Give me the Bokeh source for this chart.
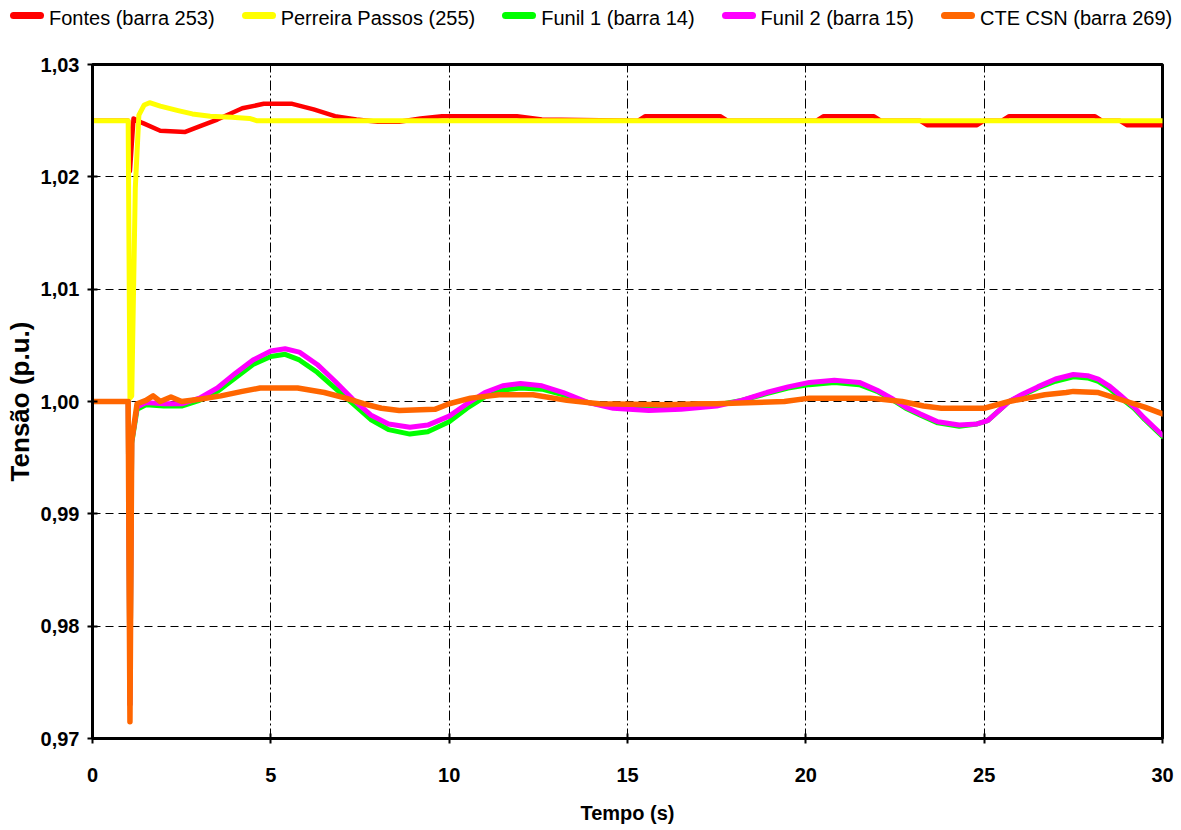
from bokeh.plotting import figure
from bokeh.layouts import column
from bokeh.models import Div, CustomJSTickFormatter, FixedTicker, Range1d
from bokeh.embed import file_html
from bokeh.resources import INLINE

# ---- data ----
t_fontes = [0, 1.0, 1.05, 1.15, 1.4, 1.9, 2.6, 3.0, 3.5, 4.2, 4.8, 5.6, 6.2, 6.8, 7.4, 8.0, 8.6,
            9.2, 9.8, 11.9, 12.6, 15.3, 15.5, 17.6, 17.8, 20.3, 20.5, 21.9, 22.1, 23.2, 23.4,
            24.8, 25.0, 25.5, 25.7, 28.1, 28.3, 28.8, 29.0, 30]
v_fontes = [1.025, 1.025, 1.0205, 1.0252, 1.0248, 1.0241, 1.0240, 1.0245, 1.0251, 1.0261, 1.0265,
            1.0265, 1.0260, 1.0254, 1.0251, 1.0249, 1.0249, 1.0252, 1.0254, 1.0254, 1.0251,
            1.0250, 1.0254, 1.0254, 1.0250, 1.0250, 1.0254, 1.0254, 1.0250, 1.0250, 1.0246,
            1.0246, 1.0250, 1.0250, 1.0254, 1.0254, 1.0250, 1.0250, 1.0246, 1.0246]

t_perreira = [0, 1.0, 1.05, 1.1, 1.2, 1.3, 1.45, 1.6, 1.9, 2.4, 2.8, 3.3, 3.9, 4.4, 4.6, 30]
v_perreira = [1.025, 1.025, 1.0003, 1.0005, 1.019, 1.0255, 1.0264, 1.0266, 1.0263, 1.0259,
              1.0256, 1.0254, 1.0253, 1.0252, 1.0250, 1.0250]

t_funil = [0, 1.0, 1.05, 1.1, 1.25, 1.5, 2.0, 2.5, 3.0, 3.5, 4.0, 4.5, 5.0, 5.4, 5.8, 6.3, 6.8,
           7.3, 7.8, 8.3, 8.9, 9.4, 10.0, 10.5, 11.0, 11.5, 12.0, 12.6, 13.2, 13.9, 14.6, 15.6,
           16.5, 17.5, 18.2, 18.9, 19.5, 20.1, 20.8, 21.5, 22.0, 22.4, 22.8, 23.2, 23.7, 24.3,
           24.8, 25.1, 25.7, 26.1, 26.5, 27.0, 27.5, 27.9, 28.2, 28.5, 28.8, 29.2, 29.5, 29.8, 30]
v_funil1 = [1.0, 1.0, 0.973, 0.9963, 0.9993, 0.9997, 0.9996, 0.9996, 1.0001, 1.0009, 1.0021,
            1.0033, 1.0040, 1.0042, 1.0037, 1.0026, 1.0012, 0.9998, 0.9984, 0.9975, 0.9971,
            0.9973, 0.9982, 0.9994, 1.0004, 1.0010, 1.0012, 1.0011, 1.0006, 0.9999, 0.9995,
            0.9994, 0.9995, 0.9997, 1.0001, 1.0007, 1.0012, 1.0015, 1.0017, 1.0015, 1.0009,
            1.0002, 0.9994, 0.9988, 0.9981, 0.9978, 0.9980, 0.9983, 1.0, 1.0006, 1.0012,
            1.0018, 1.0022, 1.0021, 1.0018, 1.0012, 1.0004, 0.9994, 0.9984, 0.9975, 0.9969]
v_funil2 = [1.0, 1.0, 0.973, 0.9965, 0.9995, 0.9999, 0.9998, 0.9998, 1.0003, 1.0012, 1.0025,
            1.0037, 1.0045, 1.0047, 1.0044, 1.0033, 1.0018, 1.0002, 0.9988, 0.9980, 0.9977,
            0.9979, 0.9987, 0.9998, 1.0008, 1.0014, 1.0016, 1.0014, 1.0008, 0.9999, 0.9994,
            0.9992, 0.9993, 0.9996, 1.0001, 1.0008, 1.0013, 1.0017, 1.0019, 1.0017, 1.0010,
            1.0003, 0.9995, 0.9989, 0.9982, 0.9979, 0.9980, 0.9983, 1.0, 1.0007, 1.0013,
            1.0020, 1.0024, 1.0023, 1.0020, 1.0014, 1.0006, 0.9995, 0.9985, 0.9976, 0.9970]

t_cte = [0, 1.0, 1.05, 1.1, 1.25, 1.5, 1.7, 1.9, 2.2, 2.5, 3.0, 3.6, 4.2, 4.7, 5.75, 6.5, 7.1,
         7.6, 8.1, 8.6, 9.6, 10.0, 10.6, 11.4, 12.35, 13.3, 14.2, 16.1, 17.0, 17.5, 19.4, 20.1,
         21.8, 22.7, 23.3, 23.8, 25.0, 25.7, 26.7, 27.3, 27.5, 28.2, 29.0, 29.5, 30]
v_cte = [1.0, 1.0, 0.9715, 0.9965, 0.9998, 1.0001, 1.0005, 1.0, 1.0004, 1.0, 1.0002, 1.0005,
         1.0009, 1.0012, 1.0012, 1.0008, 1.0003, 0.9998, 0.9994, 0.9992, 0.9993, 0.9998,
         1.0003, 1.0006, 1.0006, 1.0001, 0.9998, 0.9997, 0.9998, 0.9998, 1.0, 1.0003, 1.0003,
         1.0, 0.9996, 0.9994, 0.9994, 1.0, 1.0006, 1.0008, 1.0009, 1.0008, 1.0, 0.9995, 0.9989]

labels = ["Fontes (barra 253)", "Perreira Passos (255)", "Funil 1 (barra 14)",
          "Funil 2 (barra 15)", "CTE CSN (barra 269)"]
colors = ["#FF0000", "#FFFF00", "#00FF00", "#FF00FF", "#FF6600"]
x_ticks = [0, 5, 10, 15, 20, 25, 30]
y_ticks = [0.97, 0.98, 0.99, 1.00, 1.01, 1.02, 1.03]

FONT = "Liberation Sans"

# ---- legend strip above the chart (HTML text + colour swatches) ----
item_html = []
for lab, col in zip(labels, colors):
    item_html.append(
        '<span style="display:inline-flex;align-items:center;margin-right:27px;">'
        f'<span style="display:inline-block;width:34px;height:7px;border-radius:4px;'
        f'background:{col};margin-right:5px;position:relative;top:-3px;"></span>'
        f'<span>{lab}</span></span>')
legend_html = (
    f'<div style="display:flex;align-items:center;height:40px;width:1181px;'
    f'padding-left:10px;box-sizing:border-box;font-family:\'{FONT}\';font-size:20px;'
    f'color:black;white-space:nowrap;line-height:24px;padding-bottom:4px;">'
    + "".join(item_html) + "</div>")
legend_div = Div(text=legend_html, width=1181, height=40, margin=0,
                 styles={"padding": "0", "margin": "0"})

# ---- main chart ----
p = figure(width=1181, height=790, output_backend="svg", toolbar_location=None,
           x_range=Range1d(0, 30), y_range=Range1d(0.97, 1.03),
           min_border_left=92, min_border_right=19, min_border_top=24, min_border_bottom=92,
           background_fill_color="white", border_fill_color="white")

series = [(t_fontes, v_fontes, 4.5), (t_perreira, v_perreira, 5),
          (t_funil, v_funil1, 5), (t_funil, v_funil2, 5), (t_cte, v_cte, 5.5)]
for (t, v, w), c in zip(series, colors):
    p.line(t, v, line_color=c, line_width=w, line_join="round", line_cap="round")

for ax in (p.xaxis[0], p.yaxis[0]):
    ax.axis_line_width = 3
    ax.axis_line_color = "black"
    ax.major_tick_line_width = 2
    ax.major_tick_line_color = "black"
    ax.major_tick_in = 5
    ax.major_tick_out = 5
    ax.minor_tick_line_color = None
    ax.major_label_text_font = FONT
    ax.major_label_text_font_style = "bold"
    ax.major_label_text_font_size = "20px"
    ax.major_label_text_color = "black"
    ax.axis_label_text_font = FONT
    ax.axis_label_text_font_style = "bold"
    ax.axis_label_text_color = "black"

p.xaxis.axis_label_text_font_size = "20px"
p.yaxis.axis_label_text_font_size = "26px"
p.xaxis.ticker = FixedTicker(ticks=x_ticks)
p.yaxis.ticker = FixedTicker(ticks=y_ticks)
p.yaxis.formatter = CustomJSTickFormatter(code="return tick.toFixed(2).replace('.', ',');")
p.xaxis.axis_label = "Tempo (s)"
p.yaxis.axis_label = "Tensão (p.u.)"
p.xaxis.major_label_standoff = 24
p.xaxis.axis_label_standoff = 17
p.yaxis.major_label_standoff = 8
p.yaxis.axis_label_standoff = 3

p.xgrid.ticker = FixedTicker(ticks=[5, 10, 15, 20, 25])
p.ygrid.ticker = FixedTicker(ticks=[0.98, 0.99, 1.00, 1.01, 1.02])
p.xgrid.grid_line_color = "black"
p.xgrid.grid_line_width = 1
p.xgrid.grid_line_dash = "10 3 2 3"
p.ygrid.grid_line_color = "black"
p.ygrid.grid_line_width = 1
p.ygrid.grid_line_dash = "8 5"

p.outline_line_color = "black"
p.outline_line_width = 3

layout = column(legend_div, p, spacing=0)
open("out.html", "w").write(file_html(layout, INLINE))
